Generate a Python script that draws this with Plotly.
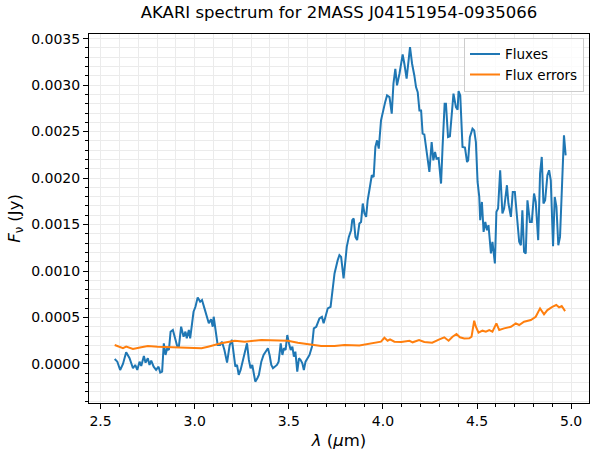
import plotly.graph_objects as go

# AKARI spectrum values (wavelength in micron, flux in Jy)
wavelength = [
    2.575, 2.589, 2.604, 2.619, 2.636, 2.654, 2.672, 2.684, 2.695, 2.707,
    2.716, 2.730, 2.739, 2.751, 2.760, 2.769, 2.782, 2.795, 2.808, 2.817,
    2.827, 2.836, 2.845, 2.854, 2.863, 2.872, 2.884, 2.898, 2.907, 2.916,
    2.928, 2.941, 2.951, 2.958, 2.969, 2.976, 2.986, 2.994, 3.004, 3.016,
    3.029, 3.039, 3.052, 3.064, 3.075, 3.087, 3.096, 3.101, 3.110, 3.122,
    3.135, 3.145, 3.158, 3.172, 3.186, 3.198, 3.207, 3.216, 3.225, 3.234,
    3.244, 3.257, 3.269, 3.278, 3.288, 3.297, 3.306, 3.315, 3.322, 3.333,
    3.341, 3.354, 3.366, 3.377, 3.389, 3.398, 3.407, 3.416, 3.428, 3.437,
    3.446, 3.457, 3.466, 3.474, 3.483, 3.492, 3.501, 3.510, 3.519, 3.527,
    3.535, 3.545, 3.554, 3.563, 3.572, 3.580, 3.589, 3.601, 3.610, 3.623,
    3.633, 3.646, 3.654, 3.663, 3.676, 3.685, 3.695, 3.707, 3.722, 3.731,
    3.743, 3.760, 3.769, 3.778, 3.791, 3.801, 3.808, 3.819, 3.831, 3.837,
    3.845, 3.854, 3.863, 3.875, 3.884, 3.893, 3.902, 3.911, 3.919, 3.928,
    3.941, 3.951, 3.960, 3.969, 3.978, 3.990, 3.999, 4.012, 4.022, 4.035,
    4.047, 4.056, 4.066, 4.075, 4.088, 4.105, 4.114, 4.126, 4.144, 4.155,
    4.167, 4.176, 4.185, 4.194, 4.203, 4.211, 4.220, 4.229, 4.238, 4.247,
    4.259, 4.268, 4.277, 4.285, 4.296, 4.309, 4.317, 4.328, 4.335, 4.346,
    4.356, 4.365, 4.375, 4.388, 4.397, 4.402, 4.411, 4.423, 4.436, 4.447,
    4.453, 4.462, 4.476, 4.485, 4.494, 4.503, 4.512, 4.517, 4.526, 4.535,
    4.544, 4.553, 4.561, 4.574, 4.582, 4.595, 4.603, 4.612, 4.623, 4.635,
    4.644, 4.659, 4.667, 4.680, 4.690, 4.701, 4.712, 4.724, 4.733, 4.741,
    4.750, 4.759, 4.768, 4.781, 4.791, 4.803, 4.812, 4.825, 4.835, 4.844,
    4.853, 4.862, 4.874, 4.883, 4.892, 4.904, 4.913, 4.922, 4.932, 4.941,
    4.950, 4.962, 4.971,
]

flux = [
    0.0000537, 0.0000247, -0.0000644, 0.0000000, 0.0001257, 0.0000612, -0.0000462, -0.0000107, -0.0000644, 0.0000247,
    -0.0000215, 0.0000859, 0.0000140, 0.0000612, -0.0000107, 0.0000354, -0.0000290, -0.0000644, -0.0000290, -0.0000934,
    -0.0000827, 0.0002223, 0.0000967, 0.0001686, 0.0001504, 0.0003469, 0.0003652, 0.0002578, 0.0001933, 0.0001858,
    0.0004006, 0.0002932, 0.0003469, 0.0002760, 0.0003652, 0.0002760, 0.0004543, 0.0005617, 0.0006154, 0.0007164,
    0.0006691, 0.0006874, 0.0005982, 0.0005080, 0.0004371, 0.0004801, 0.0004006, 0.0005080, 0.0003652, 0.0002041,
    0.0002041, 0.0002395, 0.0001504, 0.0000140, 0.0002041, 0.0002578, 0.0001149, -0.0000290, -0.0000107, -0.0001182,
    -0.0000644, 0.0000430, 0.0001321, 0.0002223, 0.0000430, -0.0000462, -0.0000107, -0.0001429, -0.0001901, -0.0001536,
    -0.0001182, 0.0000247, 0.0000967, 0.0001321, 0.0001686, 0.0000967, -0.0000107, -0.0000462, -0.0000290, -0.0000107,
    0.0000247, 0.0002223, 0.0000967, 0.0001686, 0.0001504, 0.0003115, 0.0002223, 0.0001504, 0.0001858, 0.0000784,
    0.0001321, -0.0000827, 0.0000612, 0.0000430, 0.0000075, -0.0000644, 0.0000247, 0.0000612, 0.0000967, 0.0001858,
    0.0003834, 0.0004006, 0.0004543, 0.0004908, 0.0005080, 0.0004371, 0.0005080, 0.0005982, 0.0006154, 0.0007594,
    0.0009742, 0.001117, 0.001171, 0.001152, 0.0009205, 0.001117, 0.001260, 0.001367, 0.001439, 0.001547,
    0.001565, 0.001367, 0.001332, 0.001511, 0.001528, 0.001726, 0.001619, 0.001582, 0.001761, 0.001869,
    0.002030, 0.002012, 0.002334, 0.002406, 0.002317, 0.002621, 0.002710, 0.002817, 0.002889, 0.002871,
    0.002693, 0.003015, 0.003176, 0.002997, 0.003122, 0.003330, 0.003230, 0.003069, 0.003408, 0.003230,
    0.003104, 0.002979, 0.002925, 0.002728, 0.002728, 0.002478, 0.002470, 0.002352, 0.002227, 0.002066,
    0.002388, 0.002191, 0.002280, 0.002209, 0.002216, 0.001941, 0.002334, 0.002800, 0.002800, 0.002441,
    0.002449, 0.002693, 0.002908, 0.002764, 0.002736, 0.002936, 0.002889, 0.002334, 0.002328, 0.002173,
    0.002191, 0.002441, 0.002532, 0.002513, 0.002388, 0.001958, 0.001797, 0.001547, 0.001743, 0.001421,
    0.001528, 0.001439, 0.001493, 0.001189, 0.001314, 0.001082, 0.001636, 0.001672, 0.002084, 0.001619,
    0.001672, 0.001923, 0.001726, 0.001582, 0.001851, 0.001851, 0.001582, 0.001314, 0.001278, 0.001654,
    0.001206, 0.001189, 0.001761, 0.001528, 0.001528, 0.001834, 0.001743, 0.001332, 0.002048, 0.002227,
    0.001726, 0.001761, 0.002030, 0.002084, 0.001976, 0.001267, 0.001797, 0.001690, 0.001278, 0.001367,
    0.001834, 0.002460, 0.002245,
]

err_wavelength = [
    2.575, 2.619, 2.636, 2.672, 2.716, 2.751, 2.804, 2.893, 2.948, 3.036,
    3.071, 3.140, 3.213, 3.266, 3.354, 3.425, 3.495, 3.548, 3.619, 3.672,
    3.743, 3.796, 3.875, 3.946, 3.990, 4.008, 4.025, 4.038, 4.061, 4.098,
    4.141, 4.158, 4.192, 4.220, 4.262, 4.300, 4.326, 4.349, 4.370, 4.391,
    4.409, 4.432, 4.459, 4.471, 4.485, 4.494, 4.508, 4.529, 4.547, 4.565,
    4.582, 4.603, 4.618, 4.644, 4.680, 4.706, 4.724, 4.750, 4.786, 4.812,
    4.835, 4.856, 4.874, 4.900, 4.921, 4.936, 4.950, 4.968,
]

flux_err = [
    0.000204, 0.000169, 0.000186, 0.000161, 0.000179, 0.000193, 0.000186, 0.000179, 0.000177, 0.000169,
    0.000186, 0.000222, 0.000250, 0.000240, 0.000258, 0.000258, 0.000250, 0.000229, 0.000212, 0.000193,
    0.000193, 0.000204, 0.000199, 0.000229, 0.000240, 0.000282, 0.000250, 0.000265, 0.000240, 0.000236,
    0.000250, 0.000233, 0.000258, 0.000236, 0.000229, 0.000265, 0.000287, 0.000250, 0.000293, 0.000322,
    0.000287, 0.000274, 0.000276, 0.000293, 0.000465, 0.000400, 0.000336, 0.000358, 0.000347, 0.000365,
    0.000347, 0.000437, 0.000365, 0.000383, 0.000400, 0.000437, 0.000419, 0.000454, 0.000473, 0.000508,
    0.000598, 0.000534, 0.000580, 0.000615, 0.000634, 0.000609, 0.000623, 0.000569,
]

fig = go.Figure()

fig.add_trace(
    go.Scatter(
        x=wavelength,
        y=flux,
        mode='lines',
        name='Fluxes',
        line=dict(color='#1f77b4', width=2)
    )
)

fig.add_trace(
    go.Scatter(
        x=err_wavelength,
        y=flux_err,
        mode='lines',
        name='Flux errors',
        line=dict(color='#ff7f0e', width=2)
    )
)

grid_color = '#ebebeb'

fig.update_layout(
    width=599,
    height=458,
    margin=dict(l=89, r=10, t=34, b=55),
    paper_bgcolor='white',
    plot_bgcolor='white',
    font=dict(family='DejaVu Sans', size=14, color='black'),
    title=dict(
        text='AKARI spectrum for 2MASS J04151954-0935066',
        x=0.5 * (89 + 589) / 599,
        xanchor='center',
        y=1 - 12 / 458,
        yanchor='middle',
        font=dict(size=16.5, color='black')
    ),
    showlegend=True,
    legend=dict(
        x=0.99,
        y=0.99,
        xanchor='right',
        yanchor='top',
        bgcolor='rgba(255,255,255,0.8)',
        bordercolor='#cccccc',
        borderwidth=1,
        font=dict(size=13.5),
        tracegroupgap=0,
        itemwidth=30
    )
)

fig.update_xaxes(
    range=[2.4385, 5.095],
    tick0=2.5,
    dtick=0.5,
    tickformat='.1f',
    ticks='outside',
    ticklen=5,
    tickcolor='black',
    showline=True,
    linecolor='black',
    linewidth=1,
    mirror=True,
    showgrid=True,
    gridcolor=grid_color,
    gridwidth=1,
    zeroline=False,
    automargin=False,
    minor=dict(dtick=0.1, ticks='outside', ticklen=3, tickcolor='black',
               showgrid=True, gridcolor=grid_color, gridwidth=1),
    title=dict(text='<i>λ</i> (<i>μ</i>m)', font=dict(size=16.5), standoff=6)
)

fig.update_yaxes(
    range=[-0.00042, 0.00355],
    tick0=0,
    dtick=0.0005,
    tickformat='.4f',
    ticks='outside',
    ticklen=5,
    tickcolor='black',
    showline=True,
    linecolor='black',
    linewidth=1,
    mirror=True,
    showgrid=True,
    gridcolor=grid_color,
    gridwidth=1,
    zeroline=False,
    automargin=False,
    minor=dict(dtick=0.0001, ticks='outside', ticklen=3, tickcolor='black',
               showgrid=True, gridcolor=grid_color, gridwidth=1),
    title=dict(text='<i>F</i><sub>ν</sub> (Jy)', font=dict(size=16.5), standoff=6)
)

# drop the browser's default body margin so the figure sits at the page corner
fig.write_html(
    "out.html",
    config={'displayModeBar': False},
    post_script="document.body.style.margin = '0';"
)
